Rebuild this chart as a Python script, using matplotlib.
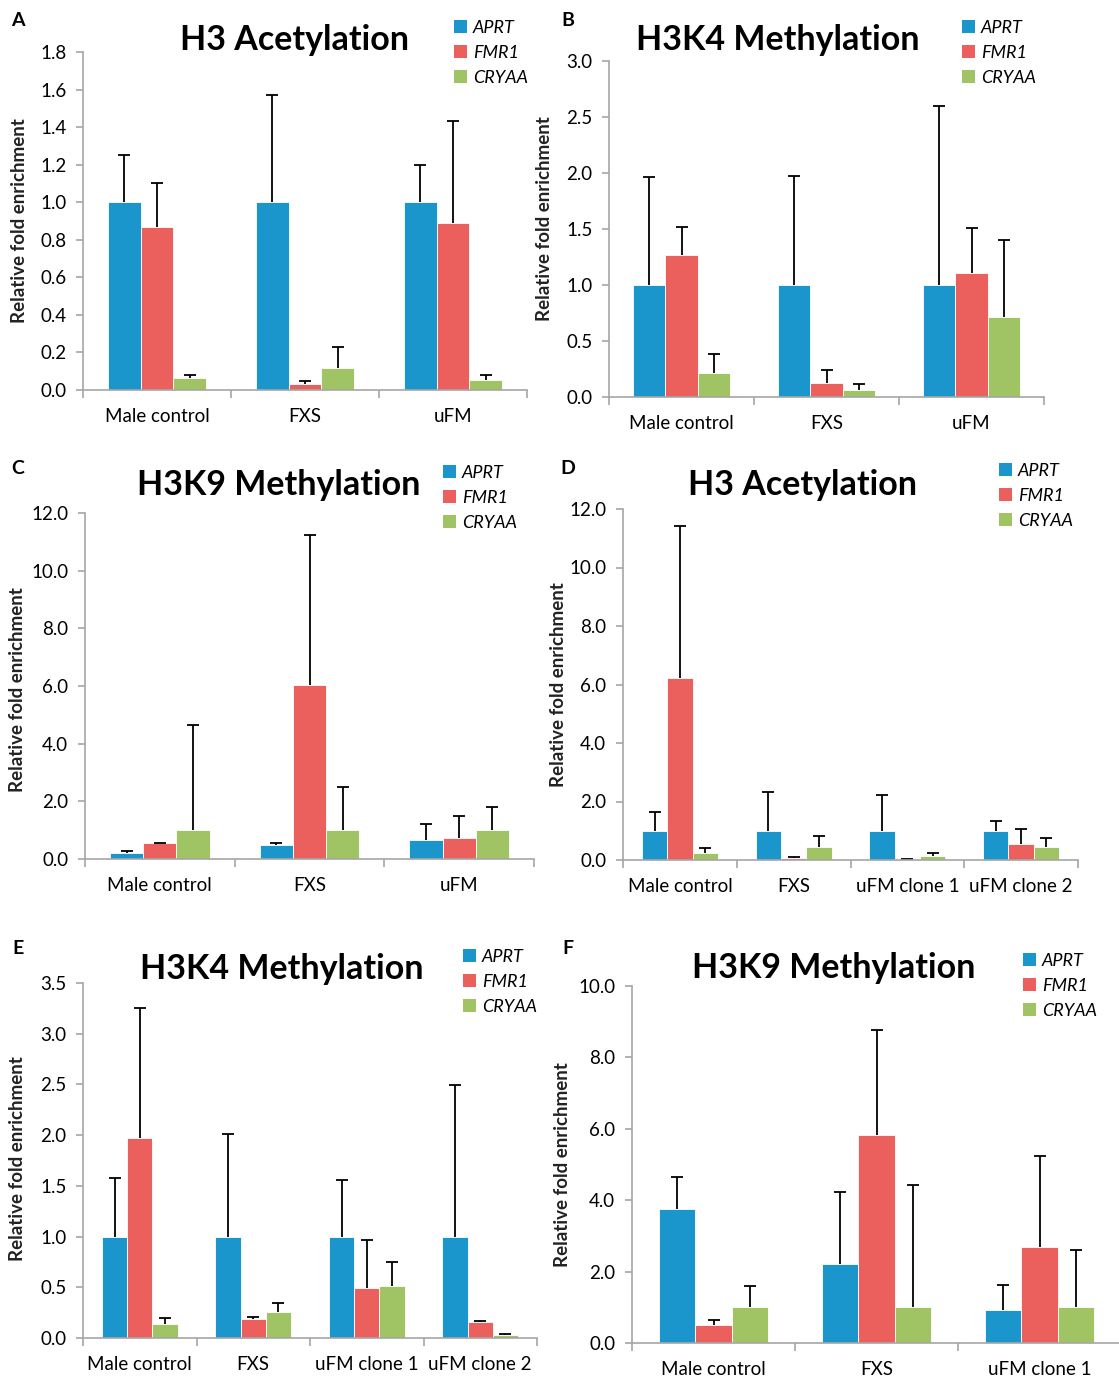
import numpy as np
import matplotlib
matplotlib.use("Agg")
import matplotlib.pyplot as plt
from matplotlib.patches import Patch
from matplotlib.ticker import FormatStrFormatter, FixedLocator

plt.rcParams['font.family'] = ['Lato', 'DejaVu Sans']

# ---- data ----
series = ['APRT', 'FMR1', 'CRYAA']
colors = ['#1A96CC', '#EB5F5C', '#A0C463']

cats3 = ['Male control', 'FXS', 'uFM']
cats4 = ['Male control', 'FXS', 'uFM clone 1', 'uFM clone 2']
cats_f = ['Male control', 'FXS', 'uFM clone 1']

# A: H3 acetylation
a_aprt = [1.0, 1.0, 1.0]
a_aprt_err = [0.25, 0.57, 0.20]
a_fmr1 = [0.87, 0.03, 0.89]
a_fmr1_err = [0.23, 0.02, 0.54]
a_cryaa = [0.065, 0.115, 0.055]
a_cryaa_err = [0.015, 0.115, 0.025]

# B: H3K4 methylation
b_aprt = [1.0, 1.0, 1.0]
b_aprt_err = [0.96, 0.97, 1.60]
b_fmr1 = [1.27, 0.125, 1.11]
b_fmr1_err = [0.25, 0.115, 0.40]
b_cryaa = [0.21, 0.06, 0.71]
b_cryaa_err = [0.17, 0.055, 0.69]

# C: H3K9 methylation
c_aprt = [0.2, 0.47, 0.65]
c_aprt_err = [0.07, 0.08, 0.56]
c_fmr1 = [0.54, 6.03, 0.74]
c_fmr1_err = [0.03, 5.21, 0.75]
c_cryaa = [1.0, 1.0, 1.0]
c_cryaa_err = [3.65, 1.5, 0.8]

# D: H3 acetylation (clones)
d_aprt = [1.0, 1.0, 1.0, 1.0]
d_aprt_err = [0.64, 1.33, 1.22, 0.33]
d_fmr1 = [6.22, 0.07, 0.03, 0.55]
d_fmr1_err = [5.2, 0.03, 0.02, 0.51]
d_cryaa = [0.24, 0.45, 0.15, 0.45]
d_cryaa_err = [0.17, 0.38, 0.09, 0.30]

# E: H3K4 methylation (clones)
e_aprt = [1.0, 1.0, 1.0, 1.0]
e_aprt_err = [0.58, 1.01, 0.56, 1.49]
e_fmr1 = [1.97, 0.19, 0.49, 0.16]
e_fmr1_err = [1.28, 0.02, 0.48, 0.01]
e_cryaa = [0.135, 0.26, 0.51, 0.03]
e_cryaa_err = [0.065, 0.09, 0.24, 0.01]

# F: H3K9 methylation (clones)
f_aprt = [3.76, 2.2, 0.93]
f_aprt_err = [0.89, 2.02, 0.69]
f_fmr1 = [0.5, 5.82, 2.69]
f_fmr1_err = [0.14, 2.95, 2.54]
f_cryaa = [1.0, 1.0, 1.0]
f_cryaa_err = [0.6, 3.43, 1.6]

W, H = 1119, 1379
fig = plt.figure(figsize=(W / 100, H / 100), dpi=100)

GRAY = '#A6A6A6'
FS = 13.5


def px_axes(left, right, bottom, top):
    return fig.add_axes([left / W, 1 - bottom / H, (right - left) / W, (bottom - top) / H])


def panel(box, cats, vals, errs, ymax, ystep, title, title_xy, letter, letter_xy,
          ylab_xy, leg_xy):
    ax = px_axes(*box)
    n = len(cats)
    x = np.arange(n)
    bw = 0.222
    handles = []
    for i, (v, e) in enumerate(zip(vals, errs)):
        pos = x + (i - 1) * bw
        ax.bar(pos, v, width=bw, color=colors[i], edgecolor='white', linewidth=0.6,
               zorder=2)
        # upper error bars only
        _, caps, _ = ax.errorbar(pos, v, yerr=[np.zeros(n), e], fmt='none',
                                 ecolor='black', elinewidth=1.3, capsize=4,
                                 capthick=1.3, zorder=3)
        caps[0].set_visible(False)
        handles.append(Patch(facecolor=colors[i], edgecolor='none'))
    ax.set_xlim(-0.5, n - 0.5)
    ax.set_ylim(0, ymax)
    ax.set_yticks(np.arange(0, ymax + ystep / 2, ystep))
    ax.yaxis.set_major_formatter(FormatStrFormatter('%.1f'))
    ax.set_xticks(x)
    ax.set_xticklabels(cats)
    ax.xaxis.set_minor_locator(FixedLocator(np.arange(n + 1) - 0.5))
    ax.tick_params(axis='x', which='major', length=0, pad=13, labelsize=FS)
    ax.tick_params(axis='x', which='minor', length=6, color=GRAY, width=1.2)
    ax.tick_params(axis='y', length=5, color=GRAY, width=1.2, labelsize=FS, pad=7)
    for s in ['top', 'right']:
        ax.spines[s].set_visible(False)
    for s in ['left', 'bottom']:
        ax.spines[s].set_color(GRAY)
        ax.spines[s].set_linewidth(1.2)
    ax.spines['bottom'].set_zorder(4)

    fig.text(title_xy[0] / W, 1 - title_xy[1] / H, title, ha='center', va='center',
             fontsize=24.5, fontweight='bold')
    fig.text(letter_xy[0] / W, 1 - letter_xy[1] / H, letter, ha='center', va='center',
             fontsize=14, fontweight='bold')
    fig.text(ylab_xy[0] / W, 1 - ylab_xy[1] / H, 'Relative fold enrichment',
             ha='center', va='center', rotation=90, fontsize=FS, fontweight='bold',
             color='#222222')
    ax.legend(handles, series, loc='upper left',
              bbox_to_anchor=(leg_xy[0] / W, 1 - leg_xy[1] / H),
              bbox_transform=fig.transFigure, frameon=False, borderpad=0,
              borderaxespad=0, handlelength=0.7, handleheight=0.7,
              handletextpad=0.35, labelspacing=0.5,
              prop={'style': 'italic', 'size': 13})
    return ax


panel((83, 527, 390, 52), cats3, [a_aprt, a_fmr1, a_cryaa],
      [a_aprt_err, a_fmr1_err, a_cryaa_err], 1.8, 0.2, 'H3 Acetylation',
      (294, 40), 'A', (18, 20), (20, 221), (454, 20))
panel((609, 1044, 397, 61), cats3, [b_aprt, b_fmr1, b_cryaa],
      [b_aprt_err, b_fmr1_err, b_cryaa_err], 3.0, 0.5, 'H3K4 Methylation',
      (778, 40), 'B', (568, 20), (545, 219), (962, 20))
panel((85, 534, 859, 513), cats3, [c_aprt, c_fmr1, c_cryaa],
      [c_aprt_err, c_fmr1_err, c_cryaa_err], 12.0, 2.0, 'H3K9 Methylation',
      (279, 485), 'C', (18, 468), (18, 690), (443, 465))
panel((623, 1078, 860, 509), cats4, [d_aprt, d_fmr1, d_cryaa],
      [d_aprt_err, d_fmr1_err, d_cryaa_err], 12.0, 2.0, 'H3 Acetylation',
      (803, 485), 'D', (568, 468), (558, 685), (999, 463))
panel((83, 537, 1338, 983), cats4, [e_aprt, e_fmr1, e_cryaa],
      [e_aprt_err, e_fmr1_err, e_cryaa_err], 3.5, 0.5, 'H3K4 Methylation',
      (282, 969), 'E', (18, 948), (18, 1159), (463, 949))
panel((632, 1121, 1343, 986), cats_f, [f_aprt, f_fmr1, f_cryaa],
      [f_aprt_err, f_fmr1_err, f_cryaa_err], 10.0, 2.0, 'H3K9 Methylation',
      (834, 968), 'F', (568, 948), (563, 1165), (1023, 953))

fig.savefig('out.png', dpi=100)
